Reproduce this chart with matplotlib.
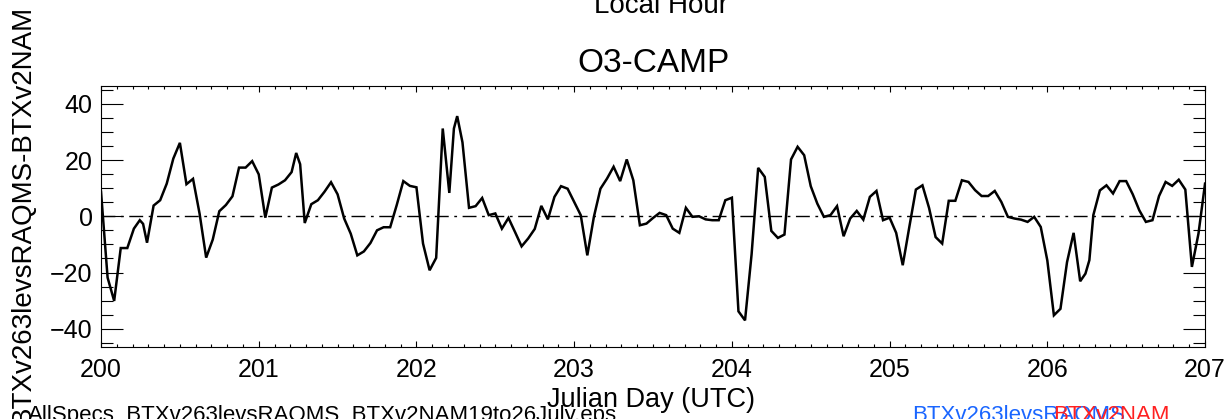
import matplotlib
matplotlib.use("Agg")
import matplotlib.pyplot as plt
from matplotlib.ticker import MultipleLocator

plt.rcParams['font.family'] = ['Liberation Sans', 'DejaVu Sans']

# hours since Julian day 200.0 (UTC)
hours = [0, 1, 2, 3, 4, 5, 5.9, 6.4, 7, 8, 9, 10, 11, 12, 13, 14, 15, 16, 17, 18,
         19, 20, 21, 22, 23, 24, 25, 26, 27, 28, 29, 29.7, 30.3, 31, 32, 33, 34, 35,
         36, 37, 38, 39, 40, 41, 42, 43, 44, 45, 46, 47, 48, 49, 50, 51, 52, 53,
         53.7, 54.2, 55, 56, 57, 58, 59, 60, 61, 62, 63, 64, 65, 66, 67, 68, 69, 70,
         71, 72, 73, 74, 75, 76, 77, 78, 79, 80, 81, 82, 83, 84, 85, 86, 87, 88, 89,
         90, 91, 92, 93, 94, 95, 96, 97, 98, 99, 100, 101, 102, 103, 104, 105, 106,
         107, 108, 109, 110, 111, 112, 113, 114, 115, 116, 117, 118, 119, 120, 121,
         122, 123, 124, 125, 126, 127, 128, 129, 130, 131, 132, 133, 134, 135, 136,
         137, 138, 139, 140, 141, 142, 143, 144, 145, 146, 147, 148, 149, 149.8,
         150.4, 151, 152, 153, 154, 155, 156, 157, 158, 159, 160, 161, 162, 163,
         164, 165, 166, 167, 168]

o3_diff = [8.7, -21.8, -30.1, -11.3, -11.3, -4.4, -1.4, -2.7, -9.4, 3.8, 5.7, 11.6,
           20.5, 26.1, 11.4, 13.3, 0.9, -14.7, -8.3, 1.8, 4.0, 7.1, 17.3, 17.3, 19.6,
           14.9, -0.5, 10.2, 11.3, 12.8, 15.7, 22.5, 18.5, -2.4, 4.3, 5.7, 8.7, 12.1,
           7.8, -0.8, -6.2, -13.9, -12.5, -9.5, -5.0, -3.9, -3.9, 4.0, 12.5, 10.8,
           10.3, -9.7, -19.2, -14.8, 31.2, 8.3, 31.2, 35.6, 26.3, 3.0, 3.6, 6.5, 0.4,
           1.0, -4.4, -0.6, -5.6, -10.7, -7.9, -4.5, 3.7, -1.1, 6.9, 10.7, 9.8, 5.1,
           0.4, -13.9, -0.2, 9.8, 13.4, 17.6, 12.5, 20.2, 12.8, -3.2, -2.6, -0.6, 1.2,
           0.4, -4.4, -5.9, 3.0, -0.2, 0.0, -1.1, -1.4, -1.4, 5.7, 6.6, -33.8, -37.0,
           -13.5, 17.2, 14.0, -5.2, -7.7, -6.5, 20.2, 24.7, 21.7, 10.7, 4.5, -0.2,
           0.4, 3.6, -7.1, -0.8, 1.9, -1.2, 6.9, 9.0, -1.4, -0.5, -5.9, -17.4, -3.8,
           9.5, 11.0, 3.0, -7.4, -9.7, 5.5, 5.5, 12.8, 12.2, 9.3, 7.2, 7.2, 9.0, 5.1,
           -0.2, -0.8, -1.2, -2.0, -0.2, -3.8, -15.7, -35.2, -32.9, -16.3, -5.9,
           -23.1, -20.4, -15.6, 0.4, 9.2, 11.0, 8.1, 12.5, 12.5, 7.8, 2.1, -2.0,
           -1.4, 7.2, 12.2, 10.8, 13.0, 9.5, -18.0, -6.2, 11.6]

start_day = 200
x_ticks = [200, 201, 202, 203, 204, 205, 206, 207]
y_ticks = [-40, -20, 0, 20, 40]

julian = [start_day + h / 24.0 for h in hours]

fig = plt.figure(figsize=(12.29, 4.19), dpi=100)
ax = fig.add_axes([0.0822, 0.173, 0.8983, 0.6217])

ax.plot(julian, o3_diff, color='black', lw=1.8, solid_joinstyle='miter')
ax.axhline(0, color='black', lw=1.0, linestyle=(0, (10, 4, 2, 4)))

ax.set_xlim(x_ticks[0], x_ticks[-1])
ax.set_ylim(-46.3, 46.3)
ax.set_xticks(x_ticks)
ax.set_yticks(y_ticks)
ax.xaxis.set_minor_locator(MultipleLocator(0.1))
ax.yaxis.set_minor_locator(MultipleLocator(5))

ax.tick_params(axis='both', which='both', direction='in', top=True, right=True,
               colors='black', width=0.8)
ax.tick_params(axis='y', which='major', length=16, labelsize=18, pad=6)
ax.tick_params(axis='y', which='minor', length=8.5)
ax.tick_params(axis='x', which='major', length=4.5, labelsize=18, pad=8)
ax.tick_params(axis='x', which='minor', length=2.2)
for s in ax.spines.values():
    s.set_linewidth(0.8)

ax.set_title('O3-CAMP', fontsize=24, pad=10)

fig.text(0.538, 1 - 13 / 419, 'Local Hour', fontsize=20, ha='center', va='baseline')
fig.text(23 / 1229, 1 - 214 / 419, 'BTXv263levsRAQMS-BTXv2NAM', fontsize=20,
         rotation=90, ha='center', va='center')
fig.text(0.5295, 1 - 407 / 419, 'Julian Day (UTC)', fontsize=19.5, ha='center',
         va='baseline')
fig.text(28 / 1229, 1 - 421 / 419, 'AllSpecs_BTXv263levsRAQMS_BTXv2NAM19to26July.eps',
         fontsize=16, ha='left', va='baseline')
fig.text(912 / 1229, 1 - 421 / 419, 'BTXv263levsRAQMS', fontsize=16, ha='left',
         va='baseline', color='#1a66ff')
fig.text(1053 / 1229, 1 - 421 / 419, 'BTXv2NAM', fontsize=16, ha='left',
         va='baseline', color='#ff2020')

fig.savefig('out.png', dpi=100)
